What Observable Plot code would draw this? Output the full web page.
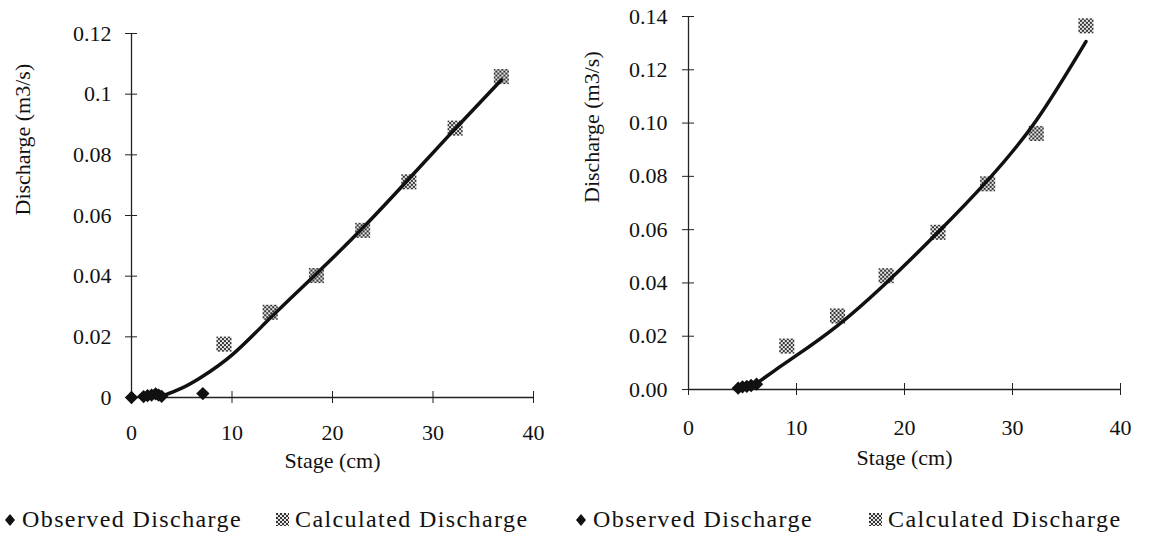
<!DOCTYPE html>
<html>
<head>
<meta charset="utf-8">
<script src="https://cdn.jsdelivr.net/npm/d3@7"></script>
<script src="https://cdn.jsdelivr.net/npm/@observablehq/plot@0.6"></script>
<style>
  html, body { margin: 0; padding: 0; background: #fff; }
  body { font-family: "Liberation Serif", "Times New Roman", Times, "DejaVu Serif", "Noto Serif", serif; color: #111; }
  #wrap { position: relative; width: 1149px; height: 547px; overflow: hidden; }
  #left { position: absolute; left: 0; top: 0; }
  #right { position: absolute; left: 560px; top: 0; }
  .leg { position: absolute; top: 506px; font-size: 24px; letter-spacing: 1.4px; white-space: nowrap; display: flex; align-items: center; }
  .leg svg { margin-right: 6px; }
  svg text { font-family: "Liberation Serif", "Times New Roman", Times, "DejaVu Serif", "Noto Serif", serif; }
</style>
</head>
<body>
<svg width="0" height="0" style="position:absolute">
  <defs>
    <pattern id="chk" width="4" height="4" patternUnits="userSpaceOnUse">
      <rect width="4" height="4" fill="#e8e8e8"></rect>
      <rect width="2" height="2" fill="#333"></rect>
      <rect x="2" y="2" width="2" height="2" fill="#333"></rect>
    </pattern>
  </defs>
</svg>
<div id="wrap">
  <div id="left"></div>
  <div id="right"></div>
</div>
<script>
// ---- Left panel data ----
const leftObsStage = [0, 1.2, 1.6, 2.0, 2.4, 2.7, 3.0, 7.1];
const leftObsQ     = [0, 0.0003, 0.0006, 0.0008, 0.0012, 0.0008, 0.0004, 0.0013];
const leftCalcStage = [9.2, 13.8, 18.4, 23.0, 27.6, 32.2, 36.8];
const leftCalcQ     = [0.0176, 0.0281, 0.0402, 0.0551, 0.0711, 0.0888, 0.1058];
const leftFitStage = [3.0, 5.0, 6.9, 10.1, 13.9, 18.4, 23.1, 27.5, 32.1, 36.8];
const leftFitQ     = [0.0004, 0.0031, 0.0066, 0.0143, 0.0265, 0.0408, 0.0562, 0.0717, 0.0882, 0.1047];
const leftYTicks = [0, 0.02, 0.04, 0.06, 0.08, 0.1, 0.12];
const leftYLabels = ["0", "0.02", "0.04", "0.06", "0.08", "0.1", "0.12"];

// ---- Right panel data ----
const rightObsStage = [4.6, 5.0, 5.4, 5.8, 6.3];
const rightObsQ     = [0.0005, 0.001, 0.0012, 0.0015, 0.002];
const rightCalcStage = [9.1, 13.8, 18.3, 23.1, 27.7, 32.2, 36.8];
const rightCalcQ     = [0.0163, 0.0276, 0.0427, 0.059, 0.0772, 0.0961, 0.1365];
const rightFitStage = [6.2, 8.0, 10.0, 13.8, 18.3, 23.1, 27.7, 32.2, 36.8];
const rightFitQ     = [0.002, 0.0072, 0.0128, 0.024, 0.040, 0.059, 0.0785, 0.101, 0.1306];
const rightYTicks = [0, 0.02, 0.04, 0.06, 0.08, 0.10, 0.12, 0.14];
const rightYLabels = ["0.00", "0.02", "0.04", "0.06", "0.08", "0.10", "0.12", "0.14"];

const xTicks = [0, 10, 20, 30, 40];
const xLabels = ["0", "10", "20", "30", "40"];
const xTitle = "Stage (cm)";
const yTitle = "Discharge (m3/s)";
const legendLabels = ["Observed Discharge", "Calculated Discharge"];

const FONT = '"Liberation Serif", "Times New Roman", Times, "DejaVu Serif", "Noto Serif", serif';
const zip = (a, b) => a.map((v, i) => ({x: v, y: b[i]}));

function panel(cfg) {
  const obs = zip(cfg.obsStage, cfg.obsQ);
  const calc = zip(cfg.calcStage, cfg.calcQ);
  const fit = zip(cfg.fitStage, cfg.fitQ);
  const yFmt = d => cfg.yLabels[cfg.yTicks.indexOf(d)];
  const xFmt = d => xLabels[xTicks.indexOf(d)];
  return Plot.plot({
    width: cfg.width, height: 480,
    marginLeft: cfg.ml, marginRight: cfg.mr, marginTop: cfg.mt, marginBottom: cfg.mb,
    x: {domain: [0, 40]},
    y: {domain: cfg.yDomain},
    style: {fontFamily: FONT, fontSize: "22px", color: "#111", background: "transparent", overflow: "visible"},
    marks: [
      Plot.ruleY([0], {stroke: "#222", strokeWidth: 1.3}),
      Plot.ruleX([0], {stroke: "#222", strokeWidth: 1.3}),
      Plot.axisX({ticks: xTicks, tickFormat: xFmt, tickSize: 6, tickPadding: cfg.xPad, label: null, stroke: "#222", fontSize: 22}),
      Plot.axisX({ticks: xTicks, tickFormat: () => "", tickSize: 6, dy: -6, label: null, stroke: "#222"}),
      Plot.axisY({ticks: cfg.yTicks, tickFormat: yFmt, tickSize: 6, tickPadding: cfg.yPad, label: null, stroke: "#222", fontSize: 22}),
      Plot.axisY({ticks: cfg.yTicks, tickFormat: () => "", tickSize: 6, dx: 6, label: null, stroke: "#222"}),
      Plot.text([yTitle], {frameAnchor: "left", dx: cfg.yTitleDx, rotate: -90, fontSize: 22, fill: "#111"}),
      Plot.text([xTitle], {frameAnchor: "bottom", dy: cfg.xTitleDy, fontSize: 22, fill: "#111"}),
      Plot.dot(calc, {x: "x", y: "y", symbol: "square", r: 8.5, fill: "url(#chk)", stroke: "none"}),
      Plot.line(fit, {x: "x", y: "y", curve: "natural", stroke: "#111", strokeWidth: 3.5}),
      Plot.dot(obs, {x: "x", y: "y", symbol: "diamond2", r: 6, fill: "#111", stroke: "none"})
    ]
  });
}

document.getElementById("left").appendChild(panel({
  width: 560, ml: 131, mr: 27, mt: 33, mb: 83, yDomain: [0, 0.12], yPad: 14, yTitleDx: -109,
  xPad: 21, xTitleDy: 70,
  obsStage: leftObsStage, obsQ: leftObsQ, calcStage: leftCalcStage, calcQ: leftCalcQ,
  fitStage: leftFitStage, fitQ: leftFitQ, yTicks: leftYTicks, yLabels: leftYLabels
}));
document.getElementById("right").appendChild(panel({
  width: 589, ml: 128, mr: 29, mt: 16, mb: 91, yDomain: [0, 0.14], yPad: 15, yTitleDx: -97,
  xPad: 24, xTitleDy: 75,
  obsStage: rightObsStage, obsQ: rightObsQ, calcStage: rightCalcStage, calcQ: rightCalcQ,
  fitStage: rightFitStage, fitQ: rightFitQ, yTicks: rightYTicks, yLabels: rightYLabels
}));

// ---- Legends ----
const wrap = document.getElementById("wrap");
const diamondSvg = '<svg width="12" height="14" viewBox="-6 -7 12 14"><path d="M0,-6L5,0L0,6L-5,0Z" fill="#111"/></svg>';
const squareSvg = '<svg width="13" height="13" viewBox="0 0 13 13"><rect width="13" height="13" fill="url(#chk)"/></svg>';
function legendItem(left, icon, label) {
  const d = document.createElement("div");
  d.className = "leg";
  d.style.left = left + "px";
  d.innerHTML = icon;
  const s = document.createElement("span");
  s.textContent = label;
  d.appendChild(s);
  wrap.appendChild(d);
}
legendItem(4, diamondSvg, legendLabels[0]);
legendItem(276, squareSvg, legendLabels[1]);
legendItem(575, diamondSvg, legendLabels[0]);
legendItem(869, squareSvg, legendLabels[1]);
</script>
</body>
</html>
